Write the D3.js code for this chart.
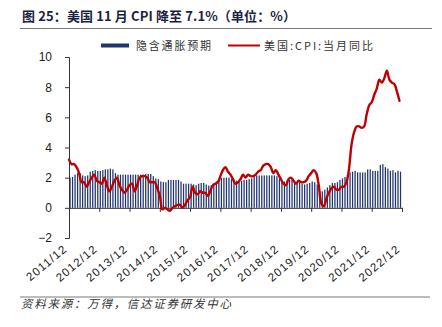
<!DOCTYPE html>
<html>
<head>
<meta charset="utf-8">
<script src="https://cdn.jsdelivr.net/npm/d3@7"></script>
<style>
  html, body { margin: 0; padding: 0; background: #ffffff; }
  svg { display: block; }
</style>
</head>
<body>
<svg id="chart" width="442" height="327"></svg>
<script>
// Year-end tick labels (one every 12 months, starting 2011/12)
const tickLabels = ["2011/12","2012/12","2013/12","2014/12","2015/12","2016/12",
                    "2017/12","2018/12","2019/12","2020/12","2021/12","2022/12"];
const yTicks = [-2, 0, 2, 4, 6, 8, 10];

// Implied inflation expectation (%), monthly, 2011/12 – 2022/11
const expectation = [
  2.00,
  2.05, 2.20, 2.30, 2.30, 2.15, 2.10, 2.15, 2.40, 2.45, 2.50, 2.45, 2.45,
  2.50, 2.55, 2.55, 2.60, 2.55, 2.30, 2.20, 2.20, 2.20, 2.20, 2.20, 2.20,
  2.20, 2.20, 2.20, 2.20, 2.20, 2.25, 2.25, 2.25, 2.10, 1.95, 1.90, 1.75,
  1.70, 1.70, 1.85, 1.85, 1.85, 1.85, 1.85, 1.75, 1.60, 1.60, 1.60, 1.60,
  1.55, 1.50, 1.60, 1.65, 1.65, 1.55, 1.48, 1.50, 1.60, 1.75, 1.85, 2.00,
  2.00, 2.00, 2.00, 1.90, 1.85, 1.80, 1.80, 1.80, 1.85, 1.85, 1.90, 1.95,
  2.10, 2.15, 2.15, 2.15, 2.15, 2.15, 2.15, 2.15, 2.15, 2.10, 1.95, 1.80,
  1.75, 1.80, 1.85, 1.85, 1.75, 1.70, 1.70, 1.60, 1.55, 1.60, 1.65, 1.75,
  1.70, 1.55, 1.10, 1.10, 1.20, 1.35, 1.50, 1.65, 1.65, 1.70, 1.85, 1.95,
  2.05, 2.20, 2.35, 2.40, 2.45, 2.35, 2.35, 2.35, 2.35, 2.55, 2.55, 2.45,
  2.45, 2.45, 2.85, 2.90, 2.70, 2.60, 2.45, 2.50, 2.35, 2.45, 2.40
];

// US CPI year-on-year (%), monthly, 2011/12 – 2022/11
const cpi = [
  3.2,
  2.9, 2.9, 2.7, 2.3, 1.7, 1.7, 1.4, 1.7, 2.0, 2.2, 1.8, 1.7,
  1.6, 2.0, 1.5, 1.1, 1.4, 1.8, 2.0, 1.5, 1.2, 1.0, 1.2, 1.5,
  1.6, 1.1, 1.5, 2.0, 2.1, 2.1, 2.0, 1.7, 1.7, 1.7, 1.3, 0.8,
  -0.1, 0.0, -0.1, -0.2, 0.0, 0.1, 0.2, 0.2, 0.0, 0.2, 0.5, 0.7,
  1.4, 1.0, 0.9, 1.1, 1.0, 1.0, 0.8, 1.1, 1.5, 1.6, 1.7, 2.1,
  2.5, 2.7, 2.4, 2.2, 1.9, 1.6, 1.7, 1.9, 2.2, 2.0, 2.2, 2.1,
  2.1, 2.2, 2.4, 2.5, 2.8, 2.9, 2.9, 2.7, 2.3, 2.5, 2.2, 1.9,
  1.6, 1.5, 1.9, 2.0, 1.8, 1.6, 1.8, 1.7, 1.7, 1.8, 2.1, 2.3,
  2.5, 2.3, 1.5, 0.3, 0.1, 0.6, 1.0, 1.3, 1.4, 1.2, 1.2, 1.4,
  1.4, 1.7, 2.6, 4.2, 5.0, 5.4, 5.4, 5.3, 5.4, 6.2, 6.8, 7.0,
  7.5, 7.9, 8.5, 8.3, 8.6, 9.1, 8.5, 8.3, 8.2, 7.7, 7.1
];

const seriesNames = ["隐含通胀预期", "美国:CPI:当月同比"];
const titleText = "图 25：美国 11 月 CPI 降至 7.1%（单位：%）";
const sourceText = "资料来源：万得，信达证券研发中心";

const CJK = "'Noto Sans CJK SC', 'Noto Sans', sans-serif";
const LATIN = "'Liberation Sans', Arial, sans-serif";
const NAVY = "#1f3470";
const RED = "#c00000";
const AXIS = "#333333";

const svg = d3.select("#chart");

// Title and rules
svg.append("text")
  .attr("x", 22).attr("y", 21)
  .attr("font-family", CJK).attr("font-size", 13).attr("font-weight", "bold")
  .attr("fill", "#1c2340")
  .attr("textLength", 274).attr("lengthAdjust", "spacing")
  .text(titleText);
svg.append("line")
  .attr("x1", 20).attr("x2", 432).attr("y1", 28.5).attr("y2", 28.5)
  .attr("stroke", "#7a7a7a").attr("stroke-width", 1.2);
svg.append("line")
  .attr("x1", 20).attr("x2", 430).attr("y1", 297).attr("y2", 297)
  .attr("stroke", "#7a7a7a").attr("stroke-width", 1.2);
svg.append("text")
  .attr("x", 21).attr("y", 308)
  .attr("font-family", CJK).attr("font-size", 11.5).attr("font-style", "italic")
  .attr("fill", "#333")
  .attr("textLength", 210).attr("lengthAdjust", "spacing")
  .text(sourceText);

// Scales
const x = d3.scaleLinear().domain([0, 132]).range([69, 402]);
const y = d3.scaleLinear().domain([-2, 10]).range([238, 57]);

// Bars
const barW = 1.25;
svg.append("g")
  .selectAll("rect")
  .data(expectation)
  .join("rect")
  .attr("x", (d, i) => x(i) + 0.4)
  .attr("width", barW)
  .attr("y", d => y(Math.max(0, d)))
  .attr("height", d => Math.abs(y(d) - y(0)))
  .attr("fill", NAVY);

// Zero line with yearly ticks
const xAxis = d3.axisBottom(x)
  .tickValues(d3.range(0, 133, 12))
  .tickSize(4)
  .tickFormat("");
const gx = svg.append("g").attr("transform", `translate(0,${y(0)})`).call(xAxis);
gx.select(".domain").attr("stroke", AXIS);
gx.selectAll(".tick line").attr("stroke", AXIS);

// Year labels along the bottom, rotated
svg.append("g")
  .selectAll("text")
  .data(tickLabels)
  .join("text")
  .attr("transform", (d, i) => `translate(${x(i * 12) - 1},${250}) rotate(-40)`)
  .attr("text-anchor", "end")
  .attr("font-family", LATIN).attr("font-size", 11.5)
  .attr("letter-spacing", 1.2)
  .attr("fill", "#222")
  .text(d => d);

// Y axis
const yAxis = d3.axisLeft(y)
  .tickValues(yTicks)
  .tickSize(4)
  .tickPadding(13)
  .tickFormat(d => d < 0 ? "\u2212" + Math.abs(d) : String(d));
const gy = svg.append("g").attr("transform", `translate(${x(0)},0)`).call(yAxis);
gy.select(".domain").attr("stroke", AXIS);
gy.selectAll(".tick line").attr("stroke", AXIS);
gy.selectAll(".tick text")
  .attr("font-family", LATIN).attr("font-size", 12).attr("fill", "#222");

// CPI line
const line = d3.line()
  .x((d, i) => x(i))
  .y(d => y(d))
  .curve(d3.curveCatmullRom.alpha(0.5));
svg.append("path")
  .datum(cpi)
  .attr("d", line)
  .attr("fill", "none")
  .attr("stroke", RED)
  .attr("stroke-width", 2.4)
  .attr("stroke-linejoin", "round")
  .attr("stroke-linecap", "round");

// Legend
const lg = svg.append("g");
lg.append("rect")
  .attr("x", 101).attr("y", 43.5).attr("width", 28).attr("height", 4)
  .attr("fill", NAVY);
lg.append("text")
  .attr("x", 136).attr("y", 49.5)
  .attr("font-family", CJK).attr("font-size", 11).attr("fill", "#333")
  .attr("textLength", 75).attr("lengthAdjust", "spacing")
  .text(seriesNames[0]);
lg.append("line")
  .attr("x1", 228).attr("x2", 260).attr("y1", 45.5).attr("y2", 45.5)
  .attr("stroke", RED).attr("stroke-width", 2);
lg.append("text")
  .attr("x", 264).attr("y", 49.5)
  .attr("font-family", CJK).attr("font-size", 11).attr("fill", "#333")
  .attr("textLength", 109).attr("lengthAdjust", "spacing")
  .text(seriesNames[1]);
</script>
</body>
</html>
